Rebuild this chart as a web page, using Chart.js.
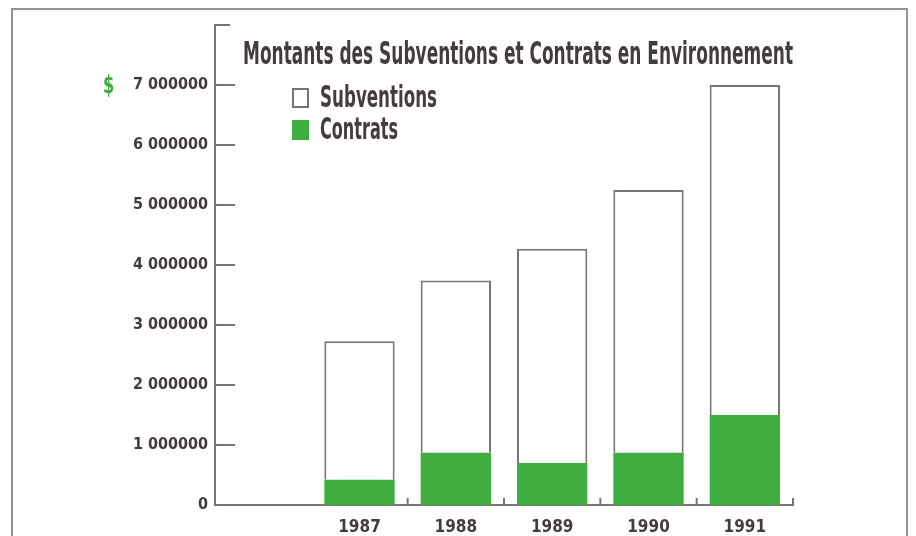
<!DOCTYPE html>
<html>
<head>
<meta charset="utf-8">
<script src="https://cdn.jsdelivr.net/npm/chart.js@4/dist/chart.umd.min.js"></script>
<style>
  html, body { margin: 0; padding: 0; background: #ffffff; overflow: hidden; }
  #wrap { width: 916px; height: 536px; overflow: hidden; position: relative; }
  canvas { display: block; }
</style>
</head>
<body>
<div id="wrap"><canvas id="c" width="916" height="548"></canvas></div>
<script>
// ---- data ----
const categories = ['', '1987', '1988', '1989', '1990', '1991'];
const contrats = [null, 420000, 870000, 700000, 870000, 1500000];
const subventions = [null, 2310000, 2870000, 3570000, 4380000, 5500000];
const seriesNames = ['Subventions', 'Contrats'];
const chartTitle = 'Montants des Subventions et Contrats en Environnement';
const currencySymbol = '$';

// ---- styles ----
const FONT = "'DejaVu Sans Condensed', 'DejaVu Sans', sans-serif";
const TEXT = '#443c3c';
const LINE = '#7d7373';
const GREEN = '#3fae3f';

const decorations = {
  id: 'decorations',
  beforeDraw(chart) {
    const ctx = chart.ctx;
    ctx.save();
    ctx.strokeStyle = '#9a9090';
    ctx.lineWidth = 2;
    ctx.beginPath();
    ctx.moveTo(12, 560);
    ctx.lineTo(12, 9);
    ctx.lineTo(907, 9);
    ctx.lineTo(907, 560);
    ctx.stroke();
    ctx.restore();
  },
  afterDraw(chart) {
    const ctx = chart.ctx;
    const x = chart.scales.x, y = chart.scales.y;
    const area = chart.chartArea;
    ctx.save();
    ctx.strokeStyle = LINE;
    ctx.lineWidth = 2;
    // y tick marks drawn inward
    y.ticks.forEach(t => {
      if (t.value === 0) return;
      const py = Math.round(y.getPixelForValue(t.value));
      const len = t.value === y.max ? 15 : 20;
      ctx.beginPath();
      ctx.moveTo(area.left, py);
      ctx.lineTo(area.left + len, py);
      ctx.stroke();
    });
    // x boundary tick marks drawn upward
    for (let i = 1; i < categories.length; i++) {
      const px = i < categories.length - 1
        ? (x.getPixelForTick(i) + x.getPixelForTick(i + 1)) / 2
        : area.right;
      ctx.beginPath();
      ctx.moveTo(px, area.bottom);
      ctx.lineTo(px, area.bottom - 7);
      ctx.stroke();
    }
    // currency symbol beside top labelled tick
    const topLabelled = y.ticks.filter(t => t.label !== '').slice(-1)[0];
    ctx.fillStyle = GREEN;
    ctx.font = 'bold 25px ' + FONT;
    ctx.textAlign = 'left';
    ctx.textBaseline = 'middle';
    ctx.save();
    ctx.translate(103, y.getPixelForValue(topLabelled.value) + 1);
    ctx.scale(0.72, 1);
    ctx.fillText(currencySymbol, 0, 0);
    ctx.restore();

    // title (condensed)
    ctx.fillStyle = TEXT;
    ctx.font = 'bold 32px ' + FONT;
    ctx.textBaseline = 'alphabetic';
    let w = ctx.measureText(chartTitle).width;
    ctx.save();
    ctx.translate(243, 64);
    ctx.scale(550 / w, 1);
    ctx.fillText(chartTitle, 0, 0);
    ctx.restore();

    // legend
    const legendItems = [
      { label: chart.data.datasets[1].label, fill: '#ffffff', stroke: LINE, y: 107 },
      { label: chart.data.datasets[0].label, fill: GREEN, stroke: null, y: 139 }
    ];
    const widths = { Subventions: 117, Contrats: 78 };
    legendItems.forEach(it => {
      ctx.fillStyle = it.fill;
      ctx.fillRect(292, it.y - 19, 17, 20);
      if (it.stroke) {
        ctx.strokeStyle = it.stroke;
        ctx.lineWidth = 2;
        ctx.strokeRect(293, it.y - 18, 15, 18);
      }
      ctx.fillStyle = TEXT;
      ctx.font = 'bold 31px ' + FONT;
      const tw = ctx.measureText(it.label).width;
      ctx.save();
      ctx.translate(320, it.y);
      ctx.scale((widths[it.label] || tw * 0.6) / tw, 1);
      ctx.fillText(it.label, 0, 0);
      ctx.restore();
    });
    ctx.restore();
  }
};

new Chart(document.getElementById('c'), {
  type: 'bar',
  data: {
    labels: categories,
    datasets: [
      {
        label: seriesNames[1],
        data: contrats,
        backgroundColor: GREEN,
        borderWidth: 0,
        categoryPercentage: 1,
        barPercentage: 0.73
      },
      {
        label: seriesNames[0],
        data: subventions,
        backgroundColor: '#ffffff',
        borderColor: LINE,
        borderWidth: { top: 2, left: 2, right: 2, bottom: 0 },
        borderSkipped: 'bottom',
        categoryPercentage: 1,
        barPercentage: 0.73
      }
    ]
  },
  options: {
    responsive: false,
    animation: false,
    layout: { padding: { left: 0, right: 123, top: 25, bottom: 0 } },
    plugins: { legend: { display: false }, title: { display: false }, tooltip: { enabled: false } },
    scales: {
      x: {
        stacked: true,
        offset: true,
        grid: { display: false, drawTicks: false },
        border: { display: true, color: LINE, width: 2 },
        ticks: { color: TEXT, font: { family: FONT, size: 17, weight: 'bold' }, padding: 12, maxRotation: 0 },
        afterFit(s) { s.height = 43; }
      },
      y: {
        stacked: true,
        min: 0,
        max: 8000000,
        grid: { display: false, drawTicks: false },
        border: { display: true, color: LINE, width: 2 },
        ticks: {
          stepSize: 1000000,
          color: TEXT,
          font: { family: FONT, size: 16, weight: 'bold' },
          padding: 7,
          callback(v) {
            if (v === 0) return '0';
            if (v >= 8000000) return '';
            return (v / 1000000) + ' 000000';
          }
        },
        afterFit(s) { s.width = 215; }
      }
    }
  },
  plugins: [decorations]
});
</script>
</body>
</html>
